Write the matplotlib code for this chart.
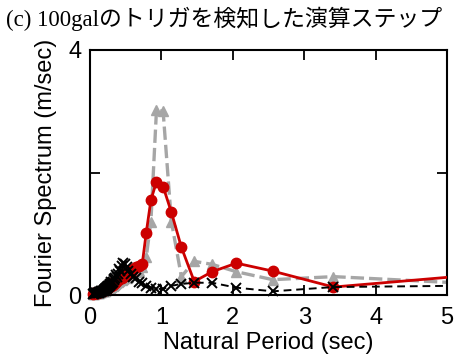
import matplotlib
matplotlib.use("Agg")
import matplotlib.pyplot as plt
from matplotlib.patches import Rectangle

title = "(c) 100galのトリガを検知した演算ステップ"
xlabel = "Natural Period (sec)"
ylabel = "Fourier Spectrum (m/sec)"

period = [5.12, 3.41, 2.56, 2.05, 1.71, 1.46, 1.28, 1.14, 1.024, 0.931, 0.853, 0.788,
          0.731, 0.683, 0.64, 0.602, 0.569, 0.539, 0.512, 0.488, 0.465, 0.445, 0.427,
          0.41, 0.394, 0.379, 0.366, 0.353, 0.341, 0.33, 0.32, 0.31, 0.301, 0.293,
          0.284, 0.277, 0.269, 0.263, 0.256, 0.25, 0.244, 0.238, 0.233, 0.228, 0.223,
          0.218, 0.213, 0.209, 0.205, 0.2, 0.19, 0.18, 0.17, 0.16, 0.15, 0.14, 0.13,
          0.12, 0.11, 0.1, 0.09, 0.08, 0.07, 0.06, 0.05, 0.04]

red_vals = [0.30, 0.13, 0.39, 0.52, 0.38, 0.22, 0.78, 1.35, 1.77, 1.85, 1.55, 1.02,
            0.50, 0.48, 0.45, 0.42, 0.38, 0.36, 0.33, 0.35, 0.30, 0.28, 0.30,
            0.26, 0.24, 0.25, 0.22, 0.20, 0.22, 0.19, 0.17, 0.18, 0.16, 0.15,
            0.16, 0.14, 0.13, 0.14, 0.12, 0.12, 0.11, 0.12, 0.10, 0.10, 0.11,
            0.09, 0.10, 0.09, 0.08, 0.09, 0.08, 0.07, 0.08, 0.07, 0.06, 0.06, 0.05,
            0.05, 0.04, 0.05, 0.04, 0.03, 0.04, 0.03, 0.03, 0.02]

gray_vals = [0.20, 0.30, 0.25, 0.38, 0.50, 0.55, 0.30, 1.20, 3.00, 3.02, 1.20, 0.62,
             0.45, 0.40, 0.38, 0.36, 0.33, 0.30, 0.28, 0.30, 0.26, 0.25, 0.26,
             0.23, 0.21, 0.22, 0.19, 0.18, 0.19, 0.17, 0.15, 0.16, 0.14, 0.13,
             0.14, 0.12, 0.11, 0.12, 0.10, 0.10, 0.09, 0.10, 0.09, 0.08, 0.09,
             0.08, 0.08, 0.07, 0.07, 0.07, 0.06, 0.06, 0.06, 0.05, 0.05, 0.05, 0.04,
             0.04, 0.04, 0.04, 0.03, 0.03, 0.03, 0.02, 0.02, 0.02]

black_vals = [0.15, 0.13, 0.06, 0.12, 0.20, 0.20, 0.18, 0.15, 0.10, 0.10, 0.12, 0.15,
              0.20, 0.22, 0.28, 0.30, 0.35, 0.40, 0.45, 0.50, 0.52, 0.48, 0.40,
              0.42, 0.35, 0.30, 0.32, 0.27, 0.25, 0.26, 0.22, 0.20, 0.21, 0.18,
              0.17, 0.18, 0.15, 0.14, 0.15, 0.13, 0.12, 0.13, 0.11, 0.10, 0.11,
              0.09, 0.10, 0.09, 0.08, 0.08, 0.07, 0.07, 0.06, 0.06, 0.05, 0.05, 0.05,
              0.04, 0.04, 0.04, 0.03, 0.03, 0.03, 0.03, 0.02, 0.02]

xticks = [0, 1, 2, 3, 4, 5]
yticks = [0, 2, 4]
yticklabels = ["0", "", "4"]

plt.rcParams['font.family'] = ['Liberation Sans', 'DejaVu Sans']

fig = plt.figure(figsize=(4.65, 3.62), dpi=100)
ax = fig.add_axes([90/465, 67/362, 357/465, 245/362])

clip = Rectangle((-0.05, -0.05), 1.05, 1.1, transform=ax.transAxes,
                 facecolor='none', edgecolor='none')

lines = []
lines += ax.plot(period, gray_vals, color='#a6a6a6', lw=2.4, ls=(0, (4, 1.5)), marker='^',
                 ms=7, markeredgecolor='#a6a6a6', markerfacecolor='#a6a6a6', zorder=2)
lines += ax.plot(period, red_vals, color='#cc0000', lw=2.0, ls='-', marker='o',
                 ms=7.5, markeredgecolor='#cc0000', markerfacecolor='#cc0000', zorder=3)
lines += ax.plot(period, black_vals, color='black', lw=1.4, ls=(0, (4, 2.5)), marker='x',
                 ms=6.5, mew=1.4, zorder=4)
for ln in lines:
    ln.set_clip_path(clip)

ax.set_xlim(0, 5)
ax.set_ylim(0, 4)
ax.set_xticks(xticks)
ax.set_xticklabels([str(t) for t in xticks])
ax.set_yticks(yticks)
ax.set_yticklabels(yticklabels)
ax.tick_params(axis='both', direction='in', length=7, width=1.3, labelsize=17,
               top=True, right=True)
ax.tick_params(axis='x', pad=9)
ax.tick_params(axis='y', pad=6)
for s in ax.spines.values():
    s.set_linewidth(1.5)

ax.set_xlabel(xlabel, fontsize=17, labelpad=2)
ax.set_ylabel(ylabel, fontsize=17, labelpad=8)

fig.text(6/465, 1 - 19/362, title, fontsize=16.5, va='center', ha='left',
         family=['Liberation Serif', 'Noto Sans CJK JP'])

fig.savefig("out.png", dpi=100)
